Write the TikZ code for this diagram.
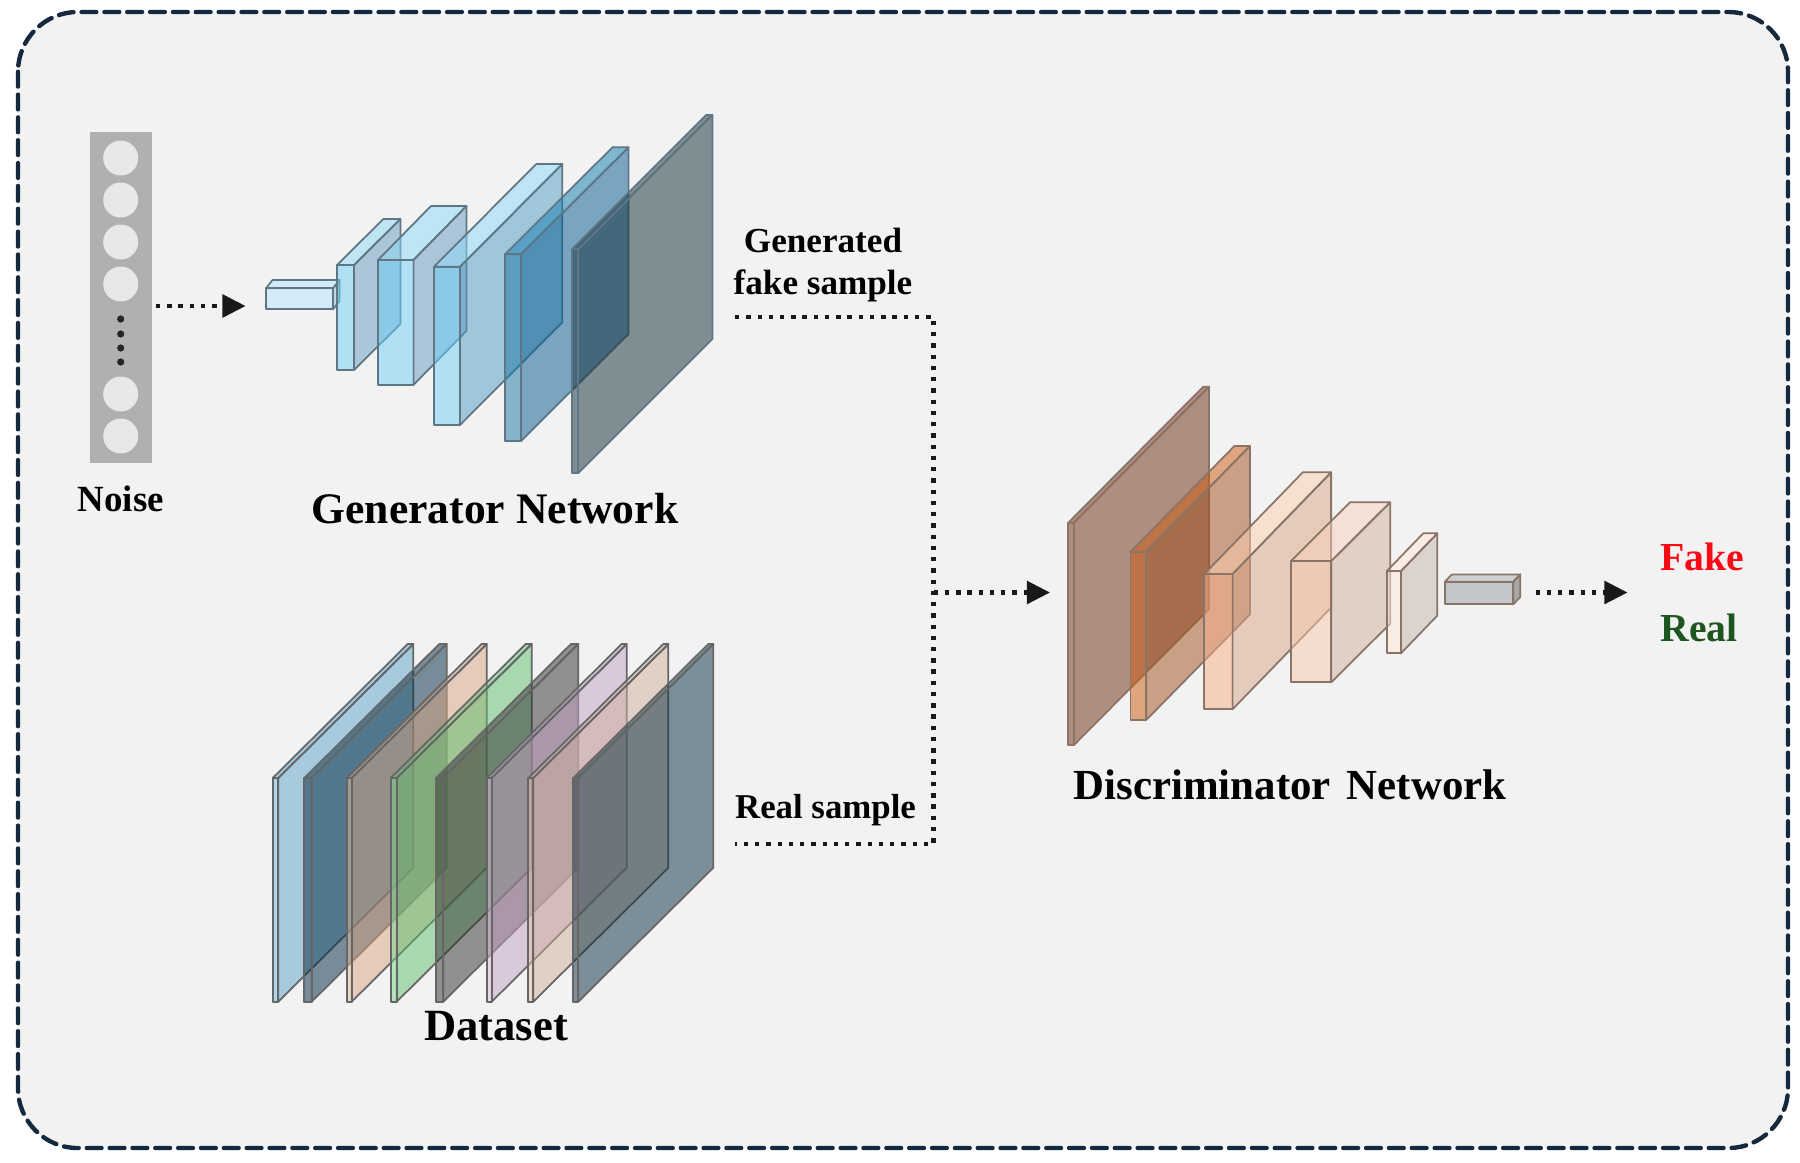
\documentclass[tikz,border=0pt]{standalone}
\usepackage{fontspec}
\setmainfont{Liberation Serif}
\usetikzlibrary{arrows.meta}
\colorlet{blockline}{black!60}
\tikzset{
  face/.style={draw=blockline,line width=.5pt,fill opacity=.5},
  flow/.style={line width=1.25pt,line cap=butt,dash pattern=on 1.25pt off 1.95pt,black!90},
  flowtip/.style={-{Triangle[length=6.6pt,width=6.4pt]}},
  lbl/.style={font=\bfseries\fontsize{#1}{12}\selectfont,inner sep=0pt},
}
% one layer: x0 x1 y0 y1 (front face), dx dy (depth), front, top and side colours
\newcommand{\layer}[9]{
  \definecolor{cfront}{HTML}{#7}
  \definecolor{ctop}{HTML}{#8}
  \definecolor{cside}{HTML}{#9}
  \fill[face,fill=cside] (#2,#3) -- ++(#5,#6) -- ++(0,#4-#3) -- ++(-#5,-#6) -- cycle;
  \fill[face,fill=ctop] (#1,#3) -- ++(#5,#6) -- ++(#2-#1,0) -- ++(-#5,-#6) -- cycle;
  \fill[face,fill=cfront] (#1,#3) rectangle (#2,#4);
}
\begin{document}
\begin{tikzpicture}[x=.1mm,y=-.1mm,line cap=round,line join=round]
  \useasboundingbox (0,0) rectangle (1800,1162);
  \fill[white] (0,0) rectangle (1800,1162);
  \definecolor{frameline}{HTML}{14293D}
  \draw[line width=1.25pt,dash pattern=on 4.2pt off 2.3pt,draw=frameline,fill=black!5,rounded corners=17pt]
    (18,12) rectangle (1788,1148);

  % noise vector
  \fill[black!31] (90,132) rectangle (152,463);
  \foreach \y in {158,200,242,284,394,436}
    \fill[black!9] (120.7,\y) circle[radius=17.5];
  \foreach \y in {319,334,348,362}
    \fill[black!85] (120.7,\y) circle[radius=3.6];
  \node[lbl=10.5] (noise) at (120.7,499) {Noise};

  % generator
  \begin{scope}
    \definecolor{blockline}{HTML}{5F7785}
    \layer{266}{333}{288.3}{309.3}{6.5}{-8.3}{bae3fc}{bae3fc}{8cbfd9}
    \layer{337}{354}{265}{370}{46.4}{-46}{6ecff7}{8cd9f7}{639cbf}
    \layer{378}{413.4}{260}{385}{53}{-54}{6ecff7}{8cd9f7}{639cbf}
    \layer{434}{460}{266.7}{425}{102.3}{-102.7}{6ecff7}{8cd9f7}{4f9cc4}
    \layer{505}{521}{254.3}{441}{107.5}{-107}{1775a3}{0d7db0}{035991}
    \layer{571.7}{578}{249.3}{473.3}{134.4}{-134.3}{0d2b36}{0d2b36}{0d2b36}
  \end{scope}
  \node[lbl=12.4] (gen) at (495,508.6) {Generator Network};

  % dataset planes
  \begin{scope}
    \colorlet{blockline}{black!60}
    \foreach \xa/\xb/\cf/\cs in {
      272.7/278.3/5fbfe3/59a6ca,
      304.3/311.7/00263f/00263f,
      346.7/351.7/e8bf9c/d9a682,
      390.7/396.7/73d98c/5fbf6e,
      436/443.3/303030/303030,
      486.7/491.7/e8bfe8/c4a1c4,
      528.3/533.3/e8bfa6/cfb09c,
      573.3/578.3/082e40/082e40}
      {\layer{\xa}{\xb}{778}{1001.7}{135}{-134}{\cf}{\cs}{\cs}}
  \end{scope}
  \node[lbl=12.7] (dataset) at (496,1026) {Dataset};

  % discriminator
  \begin{scope}
    \definecolor{blockline}{HTML}{8A7468}
    \layer{1068.3}{1074}{522.7}{745}{135}{-136}{6e2b0d}{6e2b0d}{6e2b0d}
    \layer{1130.6}{1146.2}{551.7}{720}{103.8}{-105.7}{cc590d}{cc590d}{a14f1c}
    \layer{1204.2}{1232.5}{574}{709.3}{98.6}{-101.7}{f7b087}{ffcfb0}{d9a687}
    \layer{1291}{1331.2}{561}{682.3}{59}{-58.7}{f7c9ab}{f7cfba}{cfb09c}
    \layer{1386.9}{1401}{571}{653.3}{36.3}{-37.7}{ffe8d9}{ffe8d9}{c4b5ab}
    \layer{1444.9}{1513.3}{581.7}{604.3}{7}{-7.3}{969ca6}{b0b0b0}{606060}
  \end{scope}
  \node[lbl=12.2] (disc) at (1290,785) {Discriminator\hspace{.12em} Network};

  \node[lbl=10] (genlabel) at (823,240) {Generated};
  \node[lbl=10] (fakelabel) at (823,286) {fake sample};
  \node[lbl=9.9] (reallabel) at (825.5,810.5) {Real sample};
  \node[lbl=11.3,text={rgb,255:red,250;green,10;blue,20}] (fake) at (1702.6,557) {Fake};
  \node[lbl=11.3,text={rgb,255:red,30;green,85;blue,30}] (real) at (1699,628) {Real};

  \coordinate (noiseout) at (156,306);
  \coordinate (genin) at (245.6,306);
  \coordinate (fakeout) at (735,317);
  \coordinate (realout) at (735,844);
  \coordinate (merge) at (933.6,592.5);
  \coordinate (discin) at (1050,592.5);
  \coordinate (discout) at (1535.5,592.5);
  \coordinate (result) at (1627.5,592.5);

  \draw[flow,flowtip] (noiseout) -- (genin);
  \draw[flow] (fakeout) -| (merge) |- (realout);
  \draw[flow,flowtip] (merge) -- (discin);
  \draw[flow,flowtip] (discout) -- (result);
\end{tikzpicture}
\end{document}
